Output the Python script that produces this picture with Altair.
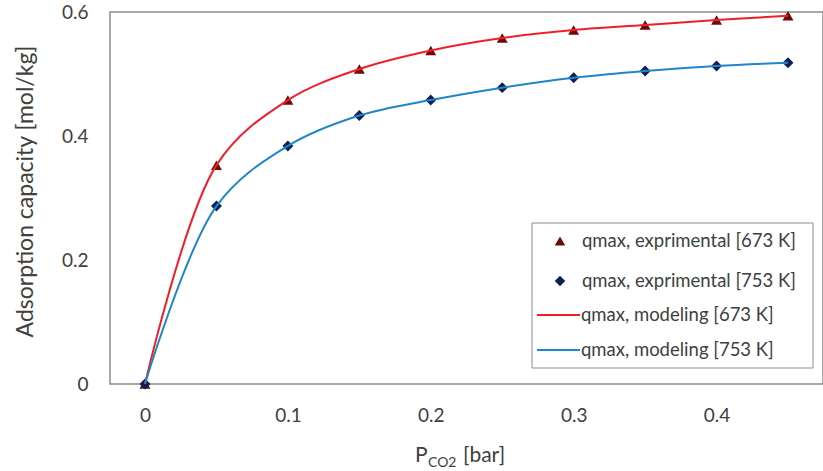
import altair as alt
import pandas as pd

# Data
p_co2 = [0.0, 0.05, 0.10, 0.15, 0.20, 0.25, 0.30, 0.35, 0.40, 0.45]
q_673 = [0.0, 0.353, 0.458, 0.508, 0.538, 0.558, 0.571, 0.579, 0.587, 0.594]
q_753 = [0.0, 0.287, 0.384, 0.433, 0.458, 0.478, 0.494, 0.505, 0.513, 0.518]

x_ticks = [0, 0.1, 0.2, 0.3, 0.4]
y_ticks = [0, 0.2, 0.4, 0.6]

legend_labels = [
    "qmax, exprimental [673 K]",
    "qmax, exprimental [753 K]",
    "qmax, modeling [673 K]",
    "qmax, modeling [753 K]",
]

RED_LINE = "#f01e28"
BLUE_LINE = "#1f86c8"
RED_MARK = "#6e0a0a"
BLUE_MARK = "#0d1f55"
GREY = "#8c8c8c"
FONT = "Lato"
TXT = "#404040"

df = pd.DataFrame({"p": p_co2 * 2,
                   "q": q_673 + q_753,
                   "T": ["673"] * len(p_co2) + ["753"] * len(p_co2)})
d673 = df[df["T"] == "673"]
d753 = df[df["T"] == "753"]

W, H = 713, 372
xs = alt.Scale(domain=[-0.0245, 0.4745], nice=False, zero=False)
ys = alt.Scale(domain=[0, 0.6], nice=False)

lab_expr = "datum.value == 0 ? '0' : format(datum.value, '.1f')"
xenc = alt.X("p:Q", scale=xs,
             axis=alt.Axis(values=x_ticks, title=None, grid=False, ticks=False,
                           domain=False, labelFontSize=19, labelColor=TXT,
                           labelFont=FONT, labelPadding=22, labelExpr=lab_expr))
yenc = alt.Y("q:Q", scale=ys,
             axis=alt.Axis(values=y_ticks, title="Adsorption capacity [mol/kg]",
                           grid=False, ticks=False, domain=False,
                           labelFontSize=19, labelColor=TXT, labelFont=FONT,
                           labelPadding=22, labelExpr=lab_expr,
                           titleFontSize=23, titleFont=FONT, titleColor=TXT,
                           titleFontWeight="normal", titlePadding=24, titleY=179))

line673 = alt.Chart(d673).mark_line(color=RED_LINE, strokeWidth=2, interpolate="catmull-rom").encode(x=xenc, y=yenc)
line753 = alt.Chart(d753).mark_line(color=BLUE_LINE, strokeWidth=2, interpolate="catmull-rom").encode(x=xenc, y=yenc)
pts673 = alt.Chart(d673).mark_point(shape="triangle-up", filled=True, opacity=1,
                                    color=RED_MARK, size=120).encode(x=xenc, y=yenc)
pts753 = alt.Chart(d753).mark_point(shape="diamond", filled=True, opacity=1,
                                    color=BLUE_MARK, size=120).encode(x=xenc, y=yenc)

# Legend (drawn manually)
one = pd.DataFrame({"a": [0]})
box = alt.Chart(one).mark_rect(fill="white", stroke=GREY, strokeWidth=1).encode(
    x=alt.value(422), x2=alt.value(703), y=alt.value(211), y2=alt.value(356))
rows = [229, 269, 303, 338]
leg = [box]
leg.append(alt.Chart(one).mark_point(shape="triangle-up", filled=True, opacity=1, color=RED_MARK, size=110)
           .encode(x=alt.value(450), y=alt.value(rows[0])))
leg.append(alt.Chart(one).mark_point(shape="diamond", filled=True, opacity=1, color=BLUE_MARK, size=110)
           .encode(x=alt.value(450), y=alt.value(rows[1])))
leg.append(alt.Chart(one).mark_rule(color=RED_LINE, strokeWidth=2)
           .encode(x=alt.value(427), x2=alt.value(470), y=alt.value(rows[2])))
leg.append(alt.Chart(one).mark_rule(color=BLUE_LINE, strokeWidth=2)
           .encode(x=alt.value(427), x2=alt.value(470), y=alt.value(rows[3])))
text_x = [472, 472, 471, 471]
for i, lab in enumerate(legend_labels):
    leg.append(alt.Chart(pd.DataFrame({"t": [lab]})).mark_text(
        align="left", baseline="middle", fontSize=18.5, font=FONT, color=TXT)
        .encode(x=alt.value(text_x[i]), y=alt.value(rows[i]), text="t:N"))

# X axis title with subscript
xt = [
    alt.Chart(pd.DataFrame({"t": ["P"]})).mark_text(align="left", baseline="alphabetic", fontSize=21, font=FONT, color=TXT)
    .encode(x=alt.value(305), y=alt.value(450), text="t:N"),
    alt.Chart(pd.DataFrame({"t": ["CO2"]})).mark_text(align="left", baseline="alphabetic", fontSize=14, font=FONT, color=TXT)
    .encode(x=alt.value(318), y=alt.value(455), text="t:N"),
    alt.Chart(pd.DataFrame({"t": ["[bar]"]})).mark_text(align="left", baseline="alphabetic", fontSize=21, font=FONT, color=TXT)
    .encode(x=alt.value(353), y=alt.value(450), text="t:N"),
]

chart = alt.layer(pts673, pts753, line673, line753, *leg, *xt).properties(
    width=W, height=H,
    autosize=alt.AutoSizeParams(type="none"),
    padding={"left": 110, "top": 12, "right": 0, "bottom": 87},
    background="white",
).configure_view(stroke=GREY, strokeWidth=1.5)

chart.save("out.html", embed_options={"renderer": "svg", "actions": False})
